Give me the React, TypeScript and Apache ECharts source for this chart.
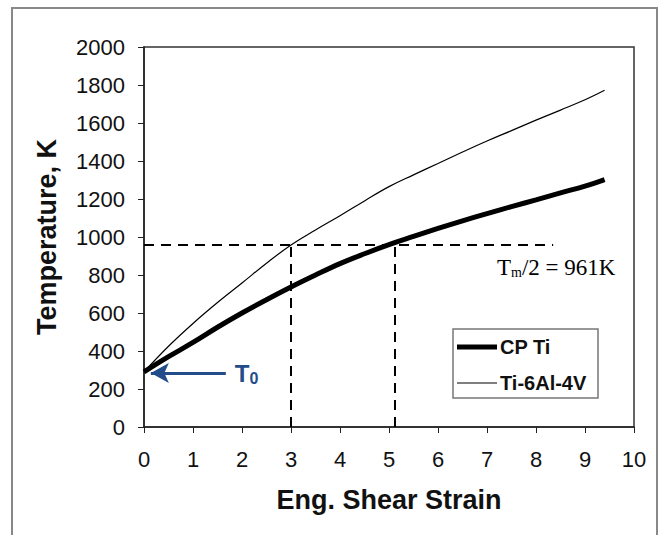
import React, { useEffect, useRef } from "react";
import * as echarts from "echarts";

const strain = [0, 0.5, 1, 1.5, 2, 2.5, 3, 3.5, 4, 4.5, 5, 5.5, 6, 6.5, 7, 7.5, 8, 8.5, 9, 9.4];
const cpTi = [290, 370, 445, 525, 600, 670, 737, 800, 860, 912, 960, 1003, 1045, 1085, 1123, 1160, 1195, 1232, 1268, 1302];
const ti64 = [290, 425, 545, 655, 758, 862, 958, 1037, 1112, 1190, 1265, 1327, 1387, 1447, 1505, 1560, 1615, 1668, 1722, 1772];
const seriesNames = ["CP Ti", "Ti-6Al-4V"];
const seriesWidths = [5, 1.2];
const halfMelt = 961;
const crossStrain = [3, 5.12];
const halfMeltLineEnd = 8.35;
const t0Arrow = { from: [1.67, 284], to: [0.14, 284] };

export default function App() {
  const ref = useRef<HTMLDivElement>(null);
  useEffect(() => {
    if (!ref.current) return;
    const chart = echarts.init(ref.current, null, { renderer: "svg" });
    const font = "Liberation Sans, Arial, sans-serif";
    const dash = { color: "#000", width: 2, type: [10, 7] as any };
    const legendBox = { x: 453, y: 329, w: 145, h: 69 };
    const legendItems: any[] = [];
    seriesNames.forEach((name, i) => {
      const cy = legendBox.y + 18 + i * 36;
      legendItems.push({
        type: "line",
        shape: { x1: legendBox.x + 4, y1: cy, x2: legendBox.x + 44, y2: cy },
        style: { stroke: "#000", lineWidth: seriesWidths[i] },
        silent: true,
      });
      legendItems.push({
        type: "text",
        x: legendBox.x + 47,
        y: cy,
        style: {
          text: name,
          fontFamily: font,
          fontWeight: "bold",
          fontSize: 20,
          fill: "#111",
          verticalAlign: "middle",
        },
        silent: true,
      });
    });
    chart.setOption({
      animation: false,
      backgroundColor: "#fff",
      grid: {
        left: 144,
        top: 47,
        width: 490,
        height: 380,
        show: true,
        borderColor: "#333",
        borderWidth: 1.5,
        backgroundColor: "transparent",
      },
      xAxis: {
        type: "value",
        min: 0,
        max: 10,
        interval: 1,
        name: "Eng. Shear Strain",
        nameLocation: "middle",
        nameGap: 59,
        nameTextStyle: { fontFamily: font, fontWeight: "bold", fontSize: 27, color: "#111" },
        axisLine: { lineStyle: { color: "#222", width: 1.5 } },
        axisTick: { show: true, length: 6, lineStyle: { color: "#222" } },
        axisLabel: { fontFamily: font, fontSize: 22, color: "#111", margin: 21, formatter: (v: number) => String(v) },
        splitLine: { show: false },
      },
      yAxis: {
        type: "value",
        min: 0,
        max: 2000,
        interval: 200,
        name: "Temperature, K",
        nameLocation: "middle",
        nameGap: 84,
        nameTextStyle: { fontFamily: font, fontWeight: "bold", fontSize: 27, color: "#111" },
        axisLine: { show: true, lineStyle: { color: "#222", width: 1.5 } },
        axisTick: { show: true, length: 6, lineStyle: { color: "#222" } },
        axisLabel: { fontFamily: font, fontSize: 22, color: "#111", margin: 19, formatter: (v: number) => String(v) },
        splitLine: { show: false },
      },
      graphic: [
        {
          type: "rect",
          shape: { x: 12, y: 8, width: 645, height: 540 },
          style: { fill: "none", stroke: "#888", lineWidth: 2 },
          silent: true,
        },
        {
          type: "text",
          x: 497,
          y: 267,
          style: {
            text: "{t|T}{s|m}{t|/2 = 961K}",
            verticalAlign: "middle",
            rich: {
              t: { fontFamily: "Liberation Serif", fontSize: 23, color: "#222", lineHeight: 24 },
              s: { fontFamily: "Liberation Serif", fontSize: 14, color: "#222", lineHeight: 12, verticalAlign: "bottom" },
            },
          },
          silent: true,
        },
        {
          type: "rect",
          shape: { x: legendBox.x, y: legendBox.y, width: legendBox.w, height: legendBox.h },
          style: { fill: "#fff", stroke: "#777", lineWidth: 1.5 },
          silent: true,
          z: 10,
        },
        ...legendItems.map((g) => ({ ...g, z: 11 })),
      ],
      series: [
        {
          name: seriesNames[0],
          type: "line",
          data: strain.map((x, i) => [x, cpTi[i]]),
          showSymbol: false,
          symbol: "none",
          smooth: 0.4,
          lineStyle: { color: "#000", width: seriesWidths[0] },
          itemStyle: { color: "#000" },
          z: 3,
        },
        {
          name: seriesNames[1],
          type: "line",
          data: strain.map((x, i) => [x, ti64[i]]),
          showSymbol: false,
          symbol: "none",
          smooth: 0.4,
          lineStyle: { color: "#000", width: seriesWidths[1] },
          itemStyle: { color: "#000" },
          z: 3,
        },
        {
          name: "guides",
          type: "line",
          data: [],
          symbol: "none",
          markLine: {
            silent: true,
            symbol: ["none", "none"],
            label: { show: false },
            lineStyle: dash,
            data: [
              [{ coord: [0, halfMelt] }, { coord: [halfMeltLineEnd, halfMelt] }],
              [{ coord: [crossStrain[0], 0] }, { coord: [crossStrain[0], halfMelt] }],
              [{ coord: [crossStrain[1], 0] }, { coord: [crossStrain[1], halfMelt] }],
            ],
          },
          z: 2,
        },
        {
          name: "T0",
          type: "line",
          data: [],
          symbol: "none",
          markLine: {
            silent: true,
            symbol: ["none", "arrow"],
            symbolSize: [15, 18],
            lineStyle: { color: "#234d8a", width: 3, type: "solid" },
            label: {
              show: true,
              position: "start",
              distance: 9,
              formatter: "{t|T}{s|0}",
              rich: {
                t: { fontFamily: font, fontWeight: "bold", fontSize: 24, color: "#234d8a", lineHeight: 26 },
                s: { fontFamily: font, fontWeight: "bold", fontSize: 16, color: "#234d8a", lineHeight: 10, verticalAlign: "bottom" },
              },
            },
            data: [[{ coord: t0Arrow.from }, { coord: t0Arrow.to }]],
          },
          z: 4,
        },
      ],
    });
    return () => chart.dispose();
  }, []);
  return (
    <div
      ref={ref}
      style={{ position: "fixed", left: 0, top: 0, width: 659, height: 535, background: "#fff" }}
    />
  );
}
